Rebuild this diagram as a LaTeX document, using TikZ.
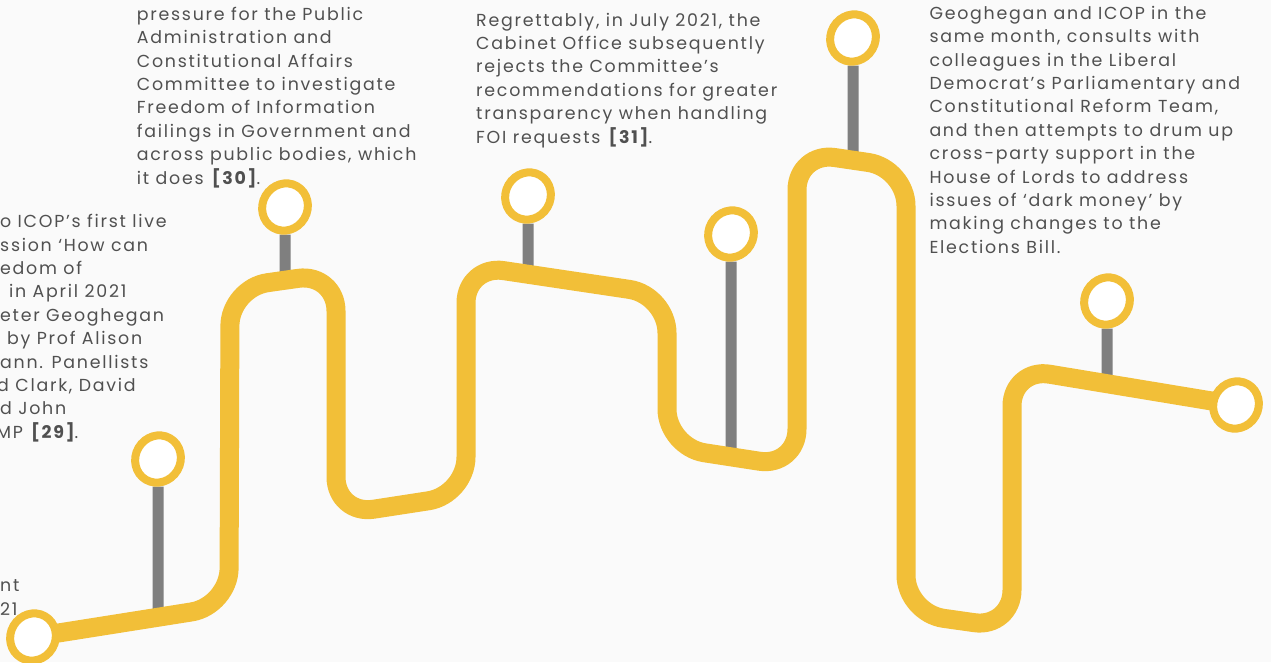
\documentclass[tikz,border=0pt]{standalone}
\usepackage{fontspec}
\setmainfont{Poppins}[LetterSpace=10]
\usetikzlibrary{shapes.geometric}
\definecolor{gold}{HTML}{F2BF38}
\definecolor{stem}{HTML}{7F7F7F}
\definecolor{ink}{HTML}{505050}
\definecolor{paper}{HTML}{FAFAFA}
\pgfdeclarelayer{back}
\pgfsetlayers{back,main}
\begin{document}
\begin{tikzpicture}[x=1pt, y=-1pt,
  pin/.style={ellipse, draw=gold, line width=8pt, fill=white, minimum width=45pt, minimum height=48pt, inner sep=0pt, rotate=-30},
  post/.style={draw=stem, line width=11pt},
  track/.style={draw=gold, line width=19pt, rounded corners=38pt},
  txt/.style={anchor=base west, align=left, inner sep=0pt, text=ink, font=\fontsize{17.4}{23.4}\selectfont}]
\useasboundingbox (0,0) rectangle (1271,662);
\clip (0,0) rectangle (1271,662);
% stations
\node[pin](R0) at (33,637) {};
\node[pin](P1) at (158,459) {};
\node[pin](P2) at (285,207) {};
\node[pin](P3) at (528,196) {};
\node[pin](P4) at (731,234) {};
\node[pin](P5) at (853,38) {};
\node[pin](P6) at (1107,301) {};
\node[pin](R7) at (1236,405) {};
\coordinate(B1) at (158,617);
\coordinate(B2) at (285,280);
\coordinate(B3) at (528,274);
\coordinate(B4) at (731,457);
\coordinate(B5) at (853,160);
\coordinate(B6) at (1107,383);
\begin{pgfonlayer}{back}
\fill[paper] (0,0) rectangle (1271,662);
\foreach \i in {1,...,6} \draw[post] (P\i) -- (B\i);
\draw[track] (R0.center) -- (229,606) -- (230,288) -- (336,273) -- (336,515) -- (466,495)
  -- (466,265) -- (667,295) -- (667,447) -- (797,467) -- (797,152) -- (906,168)
  -- (906,613) -- (1012,628) -- (1012,368) -- (R7.center);
\end{pgfonlayer}
% texts (placed by the baseline of their last line)
\node[txt](T0) at (0,615) {nt\\21};
\node[txt](T1) at (0,438.3) {o ICOP’s first live\\ssion ‘How can\\edom of\\\hspace*{9pt}in April 2021\\eter Geoghegan\\\hspace*{7pt}by Prof Alison\\ann. Panellists\\\hspace*{-3pt}d Clark, David\\d John\\\hspace*{-4pt}MP \textbf{[29]}.};
\node[txt](T2) at (136.7,184) {pressure for the Public\\Administration and\\Constitutional Affairs\\Committee to investigate\\Freedom of Information\\failings in Government and\\across public bodies, which\\it does \textbf{[30]}.};
\node[txt](T3) at (476,143) {Regrettably, in July 2021, the\\Cabinet Office subsequently\\rejects the Committee’s\\recommendations for greater\\transparency when handling\\FOI requests \textbf{[31]}.};
\node[txt](T4) at (929.3,253.3) {Geoghegan and ICOP in the\\same month, consults with\\colleagues in the Liberal\\Democrat’s Parliamentary and\\Constitutional Reform Team,\\and then attempts to drum up\\cross-party support in the\\House of Lords to address\\issues of ‘dark money’ by\\making changes to the\\Elections Bill.};
\end{tikzpicture}
\end{document}
